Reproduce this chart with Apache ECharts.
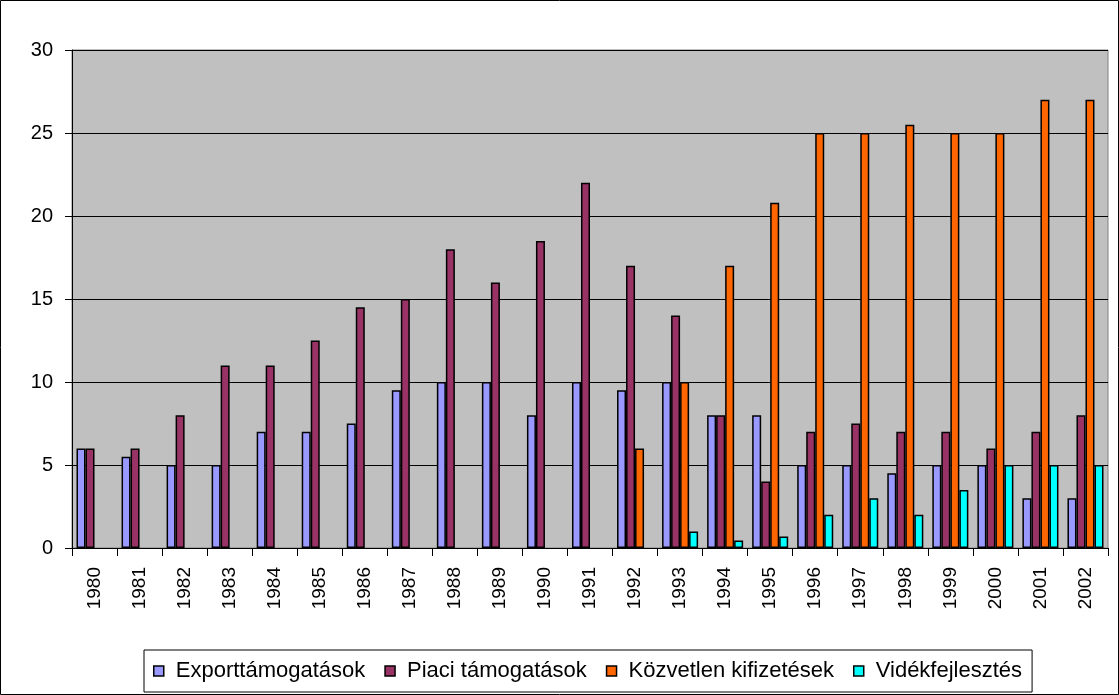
<!DOCTYPE html>
<html>
<head>
<meta charset="utf-8">
<script src="https://cdn.jsdelivr.net/npm/echarts@6/dist/echarts.min.js"></script>
<style>
  html, body { margin: 0; padding: 0; background: #fff; }
  #chart { width: 1119px; height: 695px; }
</style>
</head>
<body>
<div id="chart"></div>
<script>
    const years = ['1980', '1981', '1982', '1983', '1984', '1985', '1986', '1987', '1988', '1989', '1990', '1991',
        '1992', '1993', '1994', '1995', '1996', '1997', '1998', '1999', '2000', '2001', '2002'];
    const exportTam = [6, 5.5, 5, 5, 7, 7, 7.5, 9.5, 10, 10, 8, 10, 9.5, 10, 8, 8, 5, 5, 4.5, 5, 5, 3, 3];
    const piaciTam = [6, 6, 8, 11, 11, 12.5, 14.5, 15, 18, 16, 18.5, 22, 17, 14, 8, 4, 7, 7.5, 7, 7, 6, 7, 8];
    const kozvetlen = [null, null, null, null, null, null, null, null, null, null, null, null,
        6, 10, 17, 20.8, 25, 25, 25.5, 25, 25, 27, 27];
    const videk = [null, null, null, null, null, null, null, null, null, null, null, null,
        null, 1, 0.45, 0.7, 2, 3, 2, 3.5, 5, 5, 5];
    const yTicks = [0, 5, 10, 15, 20, 25, 30];

    const font = 'Arial, "Liberation Sans", sans-serif';

    function barSeries(name, data, color) {
        return {
            name,
            type: 'bar',
            data,
            barGap: '0%',
            barCategoryGap: '20%',
            itemStyle: { color, borderColor: '#000', borderWidth: 1.5 }
        };
    }

    const chart = echarts.init(document.getElementById('chart'));
    chart.setOption({
        animation: false,
        backgroundColor: '#fff',
        graphic: [{
            type: 'rect',
            shape: { x: 0.5, y: 0.5, width: 1118, height: 694 },
            style: { fill: 'none', stroke: '#000', lineWidth: 1 },
            silent: true
        }],
        grid: {
            left: 72, right: 11, top: 50, bottom: 147,
            show: true,
            backgroundColor: '#C0C0C0',
            borderColor: '#808080',
            borderWidth: 1
        },
        legend: {
            bottom: 3,
            left: 144,
            icon: 'rect',
            itemWidth: 10,
            itemHeight: 10,
            itemGap: 19,
            padding: [10, 10, 10, 9],
            borderColor: '#000',
            borderWidth: 1,
            textStyle: { fontFamily: font, fontSize: 22, color: '#000', padding: [0, 0, 0, 7] },
            itemStyle: { borderColor: '#000', borderWidth: 1.5 }
        },
        xAxis: {
            type: 'category',
            data: years,
            axisLine: { lineStyle: { color: '#000', width: 1 } },
            axisTick: { show: true, length: 8, interval: 0, lineStyle: { color: '#000' } },
            axisLabel: {
                interval: 0,
                rotate: 90,
                margin: 19,
                fontFamily: font,
                fontSize: 19,
                color: '#000'
            }
        },
        yAxis: {
            type: 'value',
            min: yTicks[0],
            max: yTicks[yTicks.length - 1],
            interval: 5,
            axisLine: { show: true, lineStyle: { color: '#000', width: 1 } },
            axisTick: { show: true, length: 7, lineStyle: { color: '#000' } },
            splitLine: { show: true, lineStyle: { color: '#000', width: 1 } },
            axisLabel: { margin: 19, fontFamily: font, fontSize: 20, color: '#000' }
        },
        series: [
            barSeries('Exporttámogatások', exportTam, '#9999FF'),
            barSeries('Piaci támogatások', piaciTam, '#993366'),
            barSeries('Közvetlen kifizetések', kozvetlen, '#FF6600'),
            barSeries('Vidékfejlesztés', videk, '#00FFFF')
        ]
    });
</script>
</body>
</html>
